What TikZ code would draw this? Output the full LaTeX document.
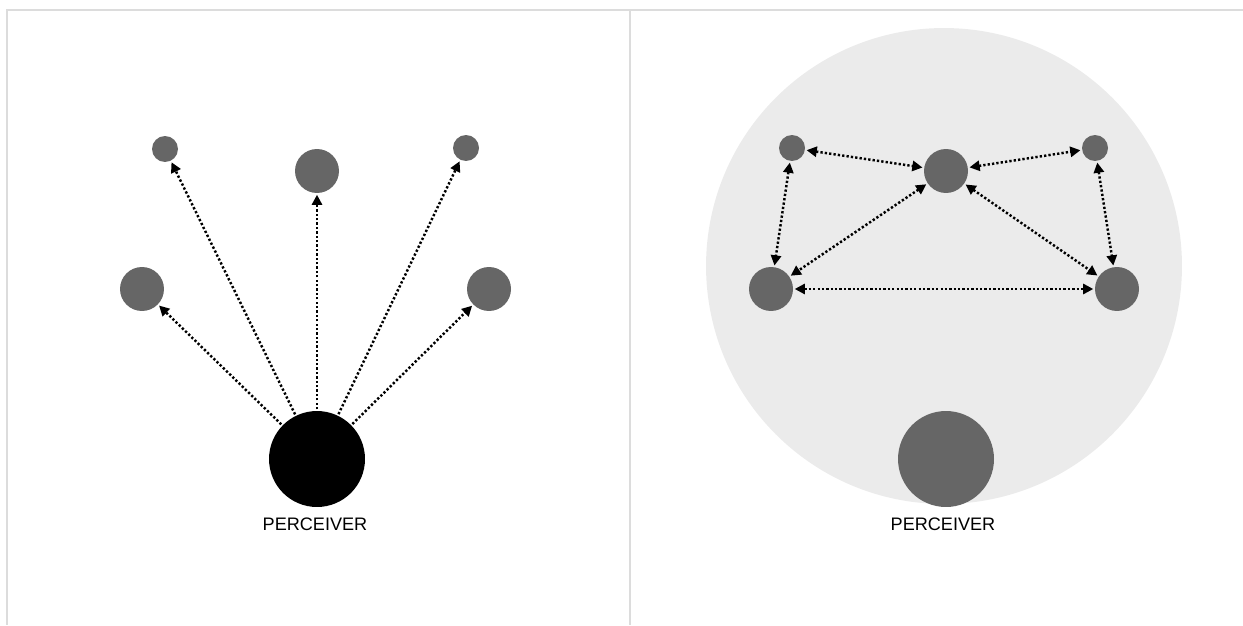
\documentclass[tikz,border=0pt]{standalone}
\usepackage{fontspec}
\setmainfont{Liberation Sans}
\usetikzlibrary{arrows.meta}
\definecolor{nodegray}{HTML}{666666}
\definecolor{bggray}{HTML}{EBEBEB}
\definecolor{framegray}{HTML}{DCDCDC}
\begin{document}
\begin{tikzpicture}[x=0.02cm,y=-0.02cm,
  dot/.style={circle,fill=nodegray,draw=none,inner sep=0pt,outer sep=1pt},
  small/.style={dot,minimum size=0.52cm},
  mid/.style={dot,minimum size=0.88cm},
  perc/.style={circle,draw=none,inner sep=0pt,outer sep=1pt,minimum size=1.92cm},
  link/.style={line width=1.4pt,dash pattern=on 1.3pt off 1.2pt,
    -{Triangle[length=5.8pt,width=5.8pt]}},
  blink/.style={link,{Triangle[length=5.8pt,width=5.8pt]}-{Triangle[length=5.8pt,width=5.8pt]}},
  lbl/.style={font=\fontsize{10.3pt}{12pt}\selectfont,inner sep=0pt},
  frame/.style={draw=framegray,line width=1.3pt}]
\useasboundingbox (0,0) rectangle (1243,625);
% frame
\draw[frame] (1243,10) -- (7,10) -- (7,625);
\draw[frame] (630,10) -- (630,625);
% left panel
\node[perc,fill=black] (P1) at (317,459) {};
\node[lbl] (L1) at (315,524) {PERCEIVER};
\node[small] (a1) at (165,149) {};
\node[mid] (a2) at (317,171) {};
\node[small] (a3) at (466,148) {};
\node[mid] (a4) at (142,289) {};
\node[mid] (a5) at (489,289) {};
\foreach \n in {a1,a2,a3,a4,a5} \draw[link] (P1) -- (\n);
% right panel
\fill[bggray] (944,266) circle[radius=4.76cm];
\node[perc,fill=nodegray] (P2) at (946,459) {};
\node[lbl] (L2) at (943,524) {PERCEIVER};
\node[small] (b1) at (792,148) {};
\node[mid] (b2) at (946,171) {};
\node[small] (b3) at (1095,148) {};
\node[mid] (b4) at (771,289) {};
\node[mid] (b5) at (1117,289) {};
\draw[blink] (b1) -- (b2);
\draw[blink] (b2) -- (b3);
\draw[blink] (b1) -- (b4);
\draw[blink] (b3) -- (b5);
\draw[blink] (b2) -- (b4);
\draw[blink] (b2) -- (b5);
\draw[blink] (b4) -- (b5);
\end{tikzpicture}
\end{document}
